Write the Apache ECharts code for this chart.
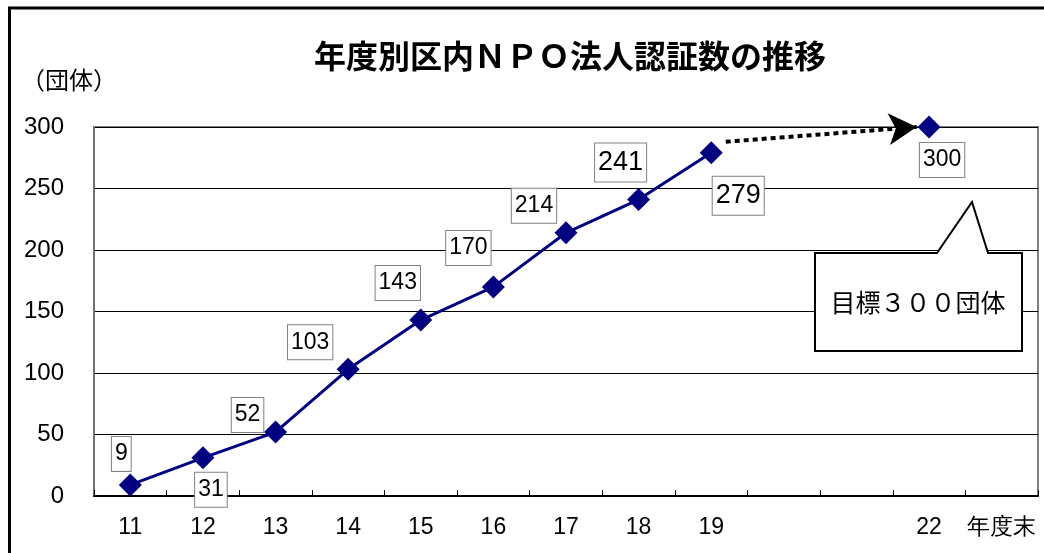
<!DOCTYPE html>
<html><head><meta charset="utf-8">
<script src="https://cdn.jsdelivr.net/npm/echarts@6/dist/echarts.min.js"></script>
<style>html,body{margin:0;padding:0;background:#fff}#c{width:1044px;height:553px}</style>
</head><body><div id="c"></div>
<script>
// ---- data ----
const categories = ['11','12','13','14','15','16','17','18','19','20','21','22','年度末'];
const hiddenLabels = ['20','21'];
const counts = [9, 31, 52, 103, 143, 170, 214, 241, 279, null, null, 300, null];
const yMin = 0, yMax = 300, yInterval = 50;
const arrowFrom = [8.2, 288];
const arrowTo = [10.83, 300];
const titleText = '年度別区内ＮＰＯ法人認証数の推移';
const unitText = '（団体）';
const targetText = '目標３００団体';
// ---- label styling (offsets from the point, font sizes) ----
const labelOffsets = [[-9,-31],[8,32],[-28,-17],[-38,-27],[-23,-37],[-25,-39],[-32,-27],[-18,-37],[27,43],null,null,[13,33],null];
const labelSizes = [23,23,23,23,23,23,23,27,27,null,null,23,null];

const NUM = '"Liberation Sans", Arial, sans-serif';
const CJK = '"Noto Sans CJK JP", sans-serif';

const chart = echarts.init(document.getElementById('c'), null, {renderer: 'canvas'});

const seriesData = counts.map((v, i) => {
  if (v == null) return null;
  return {
    value: v,
    label: {
      show: true,
      position: 'inside',
      offset: labelOffsets[i],
      fontSize: labelSizes[i],
      lineHeight: labelSizes[i],
      fontFamily: NUM,
      color: '#000',
      backgroundColor: '#fff',
      borderColor: '#808080',
      borderWidth: 1,
      padding: [6, 3, 5, 3],
      formatter: '{c}'
    }
  };
});

chart.setOption({
  backgroundColor: '#fff',
  animation: false,
  title: {
    text: titleText,
    left: 565,
    textAlign: 'center',
    top: 35,
    textStyle: {fontFamily: CJK, fontWeight: 'bold', fontSize: 32, color: '#000'}
  },
  grid: {left: 94, right: 6, top: 127, bottom: 57, show: true, borderColor: '#808080', borderWidth: 2, backgroundColor: '#fff'},
  xAxis: [{
    type: 'category',
    data: categories,
    boundaryGap: true,
    axisLine: {lineStyle: {color: '#000', width: 2}},
    axisTick: {show: true, inside: true, length: 6, interval: 0, lineStyle: {color: '#000', width: 1}},
    axisLabel: {
      interval: 0,
      fontFamily: NUM, fontSize: 23, color: '#000', margin: 20,
      formatter: v => hiddenLabels.includes(v) ? '' : v
    },
    splitLine: {show: false}
  }, {
    type: 'value', show: false, min: -0.5, max: categories.length - 0.5
  }],
  yAxis: {
    type: 'value', min: yMin, max: yMax, interval: yInterval,
    axisLine: {show: true, onZero: false, lineStyle: {color: '#707070', width: 2}},
    axisTick: {show: false},
    axisLabel: {fontFamily: NUM, fontSize: 24, color: '#000', margin: 30},
    splitLine: {lineStyle: {color: '#000', width: 1}}
  },
  series: [{
    type: 'line',
    data: seriesData,
    connectNulls: false,
    symbol: 'diamond',
    symbolSize: 23,
    itemStyle: {color: '#000080'},
    lineStyle: {color: '#000080', width: 3},
    z: 3
  }, {
    type: 'line',
    xAxisIndex: 1,
    data: [arrowFrom, arrowTo],
    symbol: 'none',
    lineStyle: {opacity: 0},
    silent: true,
    markLine: {
      silent: true,
      symbol: ['none', 'arrow'],
      symbolSize: [24, 28],
      label: {show: false},
      lineStyle: {color: '#000', width: 4, type: [5, 4]},
      data: [[{coord: arrowFrom}, {coord: arrowTo}]]
    },
    z: 2
  }],
  graphic: [
    {type: 'line', shape: {x1: 9.5, y1: 8, x2: 9.5, y2: 553}, style: {stroke: '#000', lineWidth: 3}, z: 10},
    {type: 'line', shape: {x1: 8, y1: 8, x2: 1044, y2: 8}, style: {stroke: '#000', lineWidth: 3}, z: 10},
    {type: 'text', left: 21, top: 68, style: {text: unitText, font: '24px ' + CJK, fill: '#000'}},
    {type: 'polygon', shape: {points: [[815,253],[937,253],[972,202],[988,253],[1022,253],[1022,351],[815,351]]},
      style: {fill: '#fff', stroke: '#000', lineWidth: 2}, z: 20},
    {type: 'text', x: 918, y: 302, style: {text: targetText, font: '25px ' + CJK, fill: '#000', textAlign: 'center', textVerticalAlign: 'middle'}, z: 21}
  ]
});
</script>
</body></html>
